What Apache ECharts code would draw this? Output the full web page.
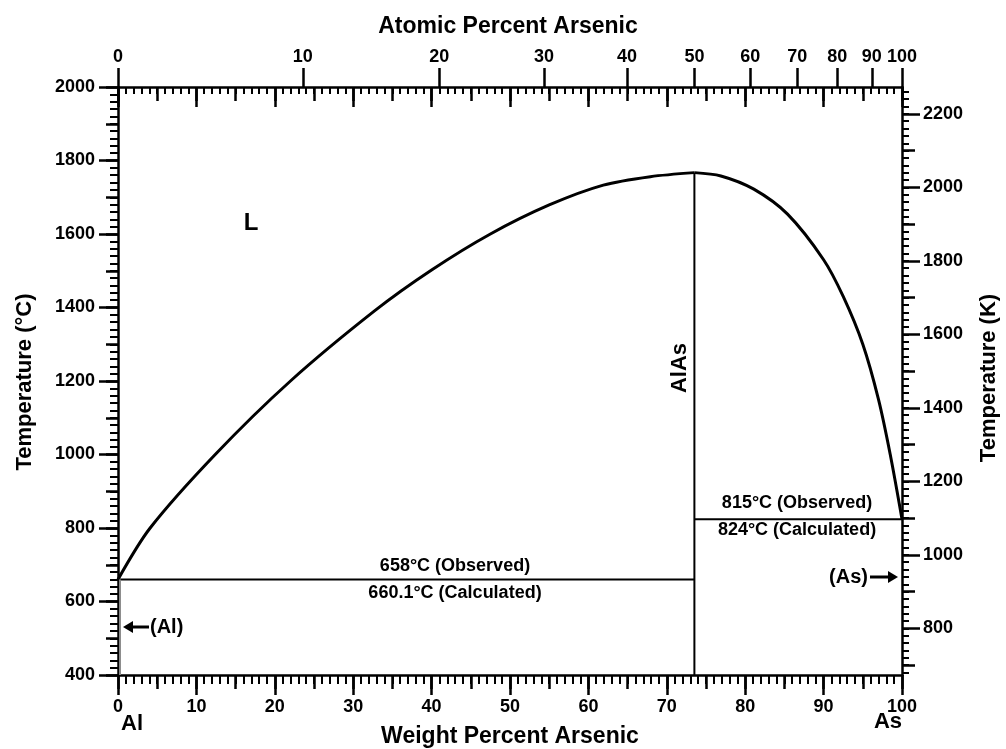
<!DOCTYPE html>
<html>
<head>
<meta charset="utf-8">
<title>Al–As Phase Diagram</title>
<script src="https://cdn.jsdelivr.net/npm/echarts@6/dist/echarts.min.js"></script>
<style>
  html, body { margin: 0; padding: 0; background: #fff; }
  #chart { width: 1006px; height: 749px; }
</style>
</head>
<body>
<div id="chart"></div>
<script>
// Al–As binary phase diagram (weight percent on the bottom, atomic percent on top)
const AL_MASS = 26.982;
const AS_MASS = 74.922;

// Top axis labels in atomic percent arsenic
const atomicTicks = [0, 10, 20, 30, 40, 50, 60, 70, 80, 90, 100];
// Right axis labels in kelvin
const kelvinTicks = [800, 1000, 1200, 1400, 1600, 1800, 2000, 2200];

// Liquidus, Al-rich side: [wt% As, °C]
const liquidusAlSide = [
  [0, 660.1], [4.1, 800], [12.4, 1000], [22.0, 1200], [32.8, 1392], [40.0, 1502],
  [47.5, 1600], [55.0, 1679], [61.9, 1733], [67.9, 1756], [73.52, 1767]
];
// Liquidus, As-rich side: [wt% As, °C]
const liquidusAsSide = [
  [73.52, 1767], [76.9, 1758], [81.1, 1722], [85.4, 1654],
  [90.0, 1530], [92.5, 1430], [95.0, 1300], [97.0, 1150], [98.5, 1000], [100, 824]
];
const alEutectic = 660.1;      // °C, calculated
const asEutectic = 824;        // °C, calculated
const alAsComposition = 73.52; // wt% As in AlAs
const alAsMelt = 1767;         // °C
const alSolvus = [[0.25, 660.1], [0.25, 400]];

const T_MIN = 400, T_MAX = 2000;

function atomicToWeight(a) {
  const as = a * AS_MASS, al = (100 - a) * AL_MASS;
  return 100 * as / (as + al);
}
function weightToAtomic(w) {
  const as = w / AS_MASS, al = (100 - w) / AL_MASS;
  return 100 * as / (as + al);
}

const atomicPositions = atomicTicks.map(atomicToWeight);
const kelvinPositions = kelvinTicks.map(k => k - 273.15);
const kelvinMid = [];
for (let k = 700; k <= 2273; k += 200) kelvinMid.push(k - 273.15);
const kelvinMinor = [];
for (let k = 680; k <= 2273; k += 20) kelvinMinor.push(k - 273.15);

const FONT = 'Liberation Sans, Arial, sans-serif';
const black = '#000';
const label18 = { fontFamily: FONT, fontSize: 18, fontWeight: 'bold', color: black };
const GRID = { left: 118, right: 104, top: 87, bottom: 74, containLabel: false };

const noLine = { show: false, onZero: false };
const frame = { show: true, onZero: false, lineStyle: { color: black, width: 2.5 } };

function xBase(grid, position) {
  return { type: 'value', gridIndex: grid, position: position, min: 0, max: 100,
           splitLine: { show: false }, axisLine: noLine, axisLabel: { show: false } };
}
function yBase(grid, position) {
  return { type: 'value', gridIndex: grid, position: position, min: T_MIN, max: T_MAX,
           splitLine: { show: false }, axisLine: noLine, axisLabel: { show: false } };
}
function tick(len, w, extra) {
  return Object.assign({ show: true, length: len, lineStyle: { color: black, width: w } }, extra || {});
}

// Three stacked grids share one rectangle so each side can carry several tick sets
const xAxes = [
  // grid 0 bottom: 10% ticks, labels, 1% minor ticks
  Object.assign(xBase(0, 'bottom'), {
    interval: 10, axisLine: frame, axisTick: tick(20, 2.5),
    minorTick: { show: true, splitNumber: 10, length: 9, lineStyle: { color: black, width: 2 } },
    axisLabel: Object.assign({ show: true, margin: 23 }, label18)
  }),
  // grid 0 top: mirrored weight-percent ticks pointing inward
  Object.assign(xBase(0, 'top'), {
    interval: 10, axisLine: frame, axisTick: tick(20, 2.5, { inside: true }),
    minorTick: { show: true, splitNumber: 10, length: 7, lineStyle: { color: black, width: 2 } }
  }),
  // grid 1: 5% ticks top and bottom
  Object.assign(xBase(1, 'bottom'), { interval: 5, axisTick: tick(14, 2.5) }),
  Object.assign(xBase(1, 'top'), { interval: 5, axisTick: tick(14, 2.5, { inside: true }) }),
  // grid 2 top: atomic percent scale
  Object.assign(xBase(2, 'top'), {
    axisTick: tick(19, 2.5, { customValues: atomicPositions }),
    axisLabel: Object.assign({
      show: true, margin: 21, customValues: atomicPositions,
      formatter: v => String(Math.round(weightToAtomic(v)))
    }, label18)
  }),
  Object.assign(xBase(2, 'bottom'), { axisTick: { show: false } })
];

const yAxes = [
  // grid 0 left: °C labels, 200° ticks, 20° minor ticks
  Object.assign(yBase(0, 'left'), {
    interval: 200, axisLine: frame, axisTick: tick(19, 2.5),
    minorTick: { show: true, splitNumber: 10, length: 8, lineStyle: { color: black, width: 2 } },
    axisLabel: Object.assign({ show: true, margin: 23, formatter: v => String(v) }, label18)
  }),
  // grid 0 right: kelvin labels
  Object.assign(yBase(0, 'right'), {
    axisLine: frame, axisTick: tick(18, 2.5, { customValues: kelvinPositions }),
    axisLabel: Object.assign({
      show: true, margin: 21, customValues: kelvinPositions,
      formatter: v => String(Math.round(v + 273.15))
    }, label18)
  }),
  // grid 1: 100° / 100 K ticks
  Object.assign(yBase(1, 'left'), { interval: 100, axisTick: tick(12, 2.5) }),
  Object.assign(yBase(1, 'right'), { axisTick: tick(13, 2.5, { customValues: kelvinMid }) }),
  // grid 2: 20 K minor ticks
  Object.assign(yBase(2, 'right'), { axisTick: tick(7, 2, { customValues: kelvinMinor }) }),
  Object.assign(yBase(2, 'left'), { axisTick: { show: false } })
];

function lineSeries(data, width, opts) {
  return Object.assign({
    type: 'line', data: data, xAxisIndex: 0, yAxisIndex: 0,
    showSymbol: false, symbol: 'none', silent: true, animation: false,
    lineStyle: { color: black, width: width }
  }, opts || {});
}

const series = [
  lineSeries(liquidusAlSide, 3, { smooth: 0.3 }),
  lineSeries(liquidusAsSide, 3, { smooth: 0.3 }),
  lineSeries([[0, alEutectic], [alAsComposition, alEutectic]], 2),
  lineSeries([[alAsComposition, asEutectic], [100, asEutectic]], 2),
  lineSeries([[alAsComposition, T_MIN], [alAsComposition, alAsMelt]], 2),
  lineSeries(alSolvus, 2, { lineStyle: { color: '#888', width: 2 } })
];

function txt(x, y, text, size, opts) {
  const o = {
    type: 'text', x: x, y: y, z: 10,
    style: Object.assign({
      text: text, fontFamily: FONT, fontSize: size, fontWeight: 'bold',
      fill: black, align: 'center', verticalAlign: 'middle'
    }, (opts && opts.style) || {})
  };
  if (opts && opts.rotation !== undefined) o.rotation = opts.rotation;
  return o;
}

function arrow(x1, x2, y) {
  const dir = x2 > x1 ? 1 : -1;
  const headLen = 10;
  return {
    type: 'group', z: 10,
    children: [
      { type: 'line', shape: { x1: x1, y1: y, x2: x2 - dir * headLen, y2: y },
        style: { stroke: black, lineWidth: 3 } },
      { type: 'polygon', shape: { points: [[x2, y], [x2 - dir * headLen, y - 6], [x2 - dir * headLen, y + 6]] },
        style: { fill: black } }
    ]
  };
}

const graphics = [
  txt(508, 27, 'Atomic Percent Arsenic', 23),
  txt(510, 737, 'Weight Percent Arsenic', 23),
  txt(25, 382, 'Temperature (°C)', 22, { rotation: Math.PI / 2 }),
  txt(989, 378, 'Temperature (K)', 22, { rotation: Math.PI / 2 }),
  txt(132, 724, 'Al', 22),
  txt(888, 722, 'As', 22),
  txt(251, 223, 'L', 24),
  txt(680, 368, 'AlAs', 22, { rotation: Math.PI / 2 }),
  txt(455, 566, '658°C (Observed)', 18),
  txt(455, 593, '660.1°C (Calculated)', 18),
  txt(797, 503, '815°C (Observed)', 18),
  txt(797, 530, '824°C (Calculated)', 18),
  txt(150, 627, '(Al)', 20, { style: { align: 'left' } }),
  arrow(149, 123, 627),
  txt(868, 577, '(As)', 20, { style: { align: 'right' } }),
  arrow(870, 898, 577)
];

const chart = echarts.init(document.getElementById('chart'), null, { renderer: 'canvas' });
chart.setOption({
  backgroundColor: '#fff',
  animation: false,
  grid: [Object.assign({}, GRID), Object.assign({}, GRID), Object.assign({}, GRID)],
  xAxis: xAxes,
  yAxis: yAxes,
  series: series,
  graphic: graphics
});
</script>
</body>
</html>
